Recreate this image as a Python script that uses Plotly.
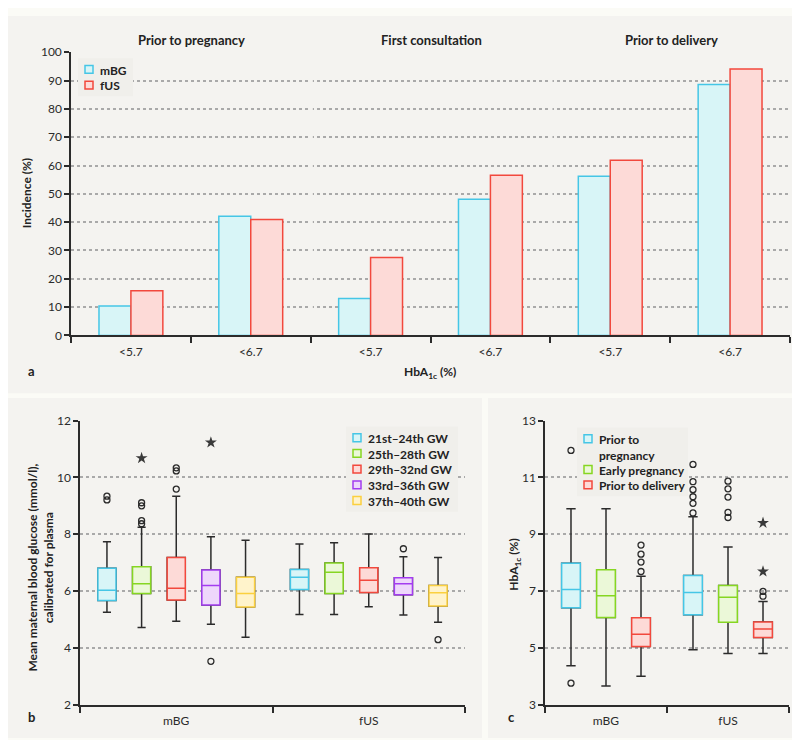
import plotly.graph_objects as go

# ---- panel a: incidence of HbA1c below threshold
sections_a = ["Prior to pregnancy", "First consultation", "Prior to delivery"]
thresholds_a = ["&lt;5.7", "&lt;6.7", "&lt;5.7", "&lt;6.7", "&lt;5.7", "&lt;6.7"]
series_a = ["mBG", "fUS"]
mbg_a = [10.4, 42.1, 13.0, 48.1, 56.2, 88.6]
fus_a = [15.8, 40.9, 27.5, 56.6, 61.9, 94.1]

# ---- panel b: mean maternal blood glucose by gestational week, rows = week, cols = [mBG, fUS]
groups = ["mBG", "fUS"]
weeks_b = ["21st\u201324th GW", "25th\u201328th GW", "29th\u201332nd GW", "33rd\u201336th GW", "37th\u201340th GW"]
b_upper = [[7.74, 7.66], [8.25, 7.70], [9.34, 8.01], [7.91, 7.21], [7.79, 7.18]]
b_q3 = [[6.80, 6.76], [6.86, 6.99], [7.18, 6.82], [6.74, 6.47], [6.49, 6.20]]
b_median = [[6.03, 6.49], [6.26, 6.66], [6.10, 6.38], [6.20, 6.26], [5.92, 5.94]]
b_q1 = [[5.67, 6.06], [5.92, 5.92], [5.69, 5.95], [5.51, 5.87], [5.44, 5.48]]
b_lower = [[5.26, 5.18], [4.72, 5.18], [4.94, 5.45], [4.83, 5.16], [4.38, 4.90]]
b_outliers = [[[9.34, 9.21], []], [[9.11, 9.0, 8.48, 8.37], []], [[10.34, 10.23, 9.59], []],
              [[3.53], [7.49]], [[], [4.29]]]
b_extremes = [[[], []], [[10.68], []], [[], []], [[11.23], []], [[], []]]

# ---- panel c: HbA1c by period, rows = period, cols = [mBG, fUS]
periods_c = ["Prior to<br>pregnancy", "Early pregnancy", "Prior to delivery"]
c_upper = [[9.90, 9.62], [9.90, 8.55], [7.52, 6.63]]
c_q3 = [[7.98, 7.55], [7.75, 7.20], [6.06, 5.91]]
c_median = [[7.06, 6.95], [6.84, 6.78], [5.48, 5.67]]
c_q1 = [[6.41, 6.17], [6.07, 5.90], [5.05, 5.37]]
c_lower = [[4.37, 4.94], [3.66, 4.80], [4.00, 4.80]]
c_outliers = [[[11.95, 3.76], [11.46, 10.85, 10.57, 10.32, 10.09, 9.75]],
              [[], [10.87, 10.60, 10.31, 9.77, 9.59]],
              [[8.62, 8.30, 8.02, 7.69], [6.99, 6.82]]]
c_extremes = [[[], []], [[], []], [[], [9.40, 7.69]]]

CYAN = ("#45c6e6", "#d8f5f7")
GREEN = ("#86d622", "#ebf8d8")
RED = ("#f2483d", "#fddad7")
PURPLE = ("#a33cf0", "#eed7fb")
YELLOW = ("#fbd03f", "#fff3cb")

PANEL_BG = "#f4f3f0"
PLOT_BG = "#fefdf4"
LEGEND_BG = "#f0efeb"
INK = "#2b2b2b"
FONT = "Lato"
W, H = 800, 740


def px(x):
    return x / W


def py(y):
    return 1 - y / H


bold = {"family": FONT, "size": 12, "color": "#222", "weight": "bold"}

fig = go.Figure()

# panel a bars
for name, vals, (line_c, fill_c) in zip(series_a, [mbg_a, fus_a], [CYAN, RED]):
    fig.add_trace(go.Bar(
        x=[i + 0.5 for i in range(len(vals))], y=vals, name=name,
        marker={"color": fill_c, "line": {"color": line_c, "width": 1.5}},
        xaxis="x", yaxis="y", showlegend=False,
    ))


def add_box_panel(xa, ya, names, colors, upper, q3, med, q1, lower,
                  outliers, extremes, slot, width, whisker):
    n = len(names)
    for i in range(n):
        pos = [g + 0.5 + (i - (n - 1) / 2) * slot for g in range(len(groups))]
        line_c, fill_c = colors[i]
        # whiskers in black underneath
        fig.add_trace(go.Box(
            x=pos, q1=q1[i], median=med[i], q3=q3[i], lowerfence=lower[i],
            upperfence=upper[i], width=width, whiskerwidth=whisker,
            line={"color": INK, "width": 1.5}, fillcolor="rgba(0,0,0,0)",
            boxpoints=False, showlegend=False, hoverinfo="skip",
            xaxis=xa, yaxis=ya,
        ))
        # coloured box on top
        fig.add_trace(go.Box(
            x=pos, q1=q1[i], median=med[i], q3=q3[i], lowerfence=q1[i],
            upperfence=q3[i], width=width, whiskerwidth=0,
            line={"color": line_c, "width": 1.5}, fillcolor=fill_c,
            boxpoints=False, name=names[i].replace("<br>", " "), showlegend=False,
            xaxis=xa, yaxis=ya,
        ))
        for g in range(len(groups)):
            if outliers[i][g]:
                fig.add_trace(go.Scatter(
                    x=[pos[g]] * len(outliers[i][g]), y=outliers[i][g], mode="markers",
                    marker={"symbol": "circle-open", "size": 6, "color": INK,
                            "line": {"width": 1.3}},
                    showlegend=False, xaxis=xa, yaxis=ya,
                ))
            if extremes[i][g]:
                fig.add_trace(go.Scatter(
                    x=[pos[g]] * len(extremes[i][g]), y=extremes[i][g], mode="markers",
                    marker={"symbol": "star", "size": 9, "color": "#3a3a3a"},
                    showlegend=False, xaxis=xa, yaxis=ya,
                ))


add_box_panel("x2", "y2", weeks_b, [CYAN, GREEN, RED, PURPLE, YELLOW],
              b_upper, b_q3, b_median, b_q1, b_lower, b_outliers, b_extremes,
              slot=0.18, width=0.094, whisker=0.45)
add_box_panel("x3", "y3", periods_c, [CYAN, GREEN, RED],
              c_upper, c_q3, c_median, c_q1, c_lower, c_outliers, c_extremes,
              slot=0.287, width=0.153, whisker=0.5)

tickfont = {"family": FONT, "size": 12, "color": INK}
yax = dict(showline=True, linecolor=INK, linewidth=1.5, ticks="outside", ticklen=5,
           tickwidth=1.5, tickcolor=INK, showgrid=True, gridcolor="#a9a9a9",
           griddash="dot", gridwidth=1.5, zeroline=False, tickfont=tickfont)


def xax(n, labels, dom, anchor):
    return dict(domain=dom, anchor=anchor, range=[0, n], tickmode="array",
                tickvals=[i + 0.5 for i in range(n)], ticktext=labels, ticks="",
                showgrid=False, zeroline=False, showline=True, linecolor=INK,
                linewidth=1.5, tickfont=tickfont, ticklabelstandoff=4,
                minor={"tickmode": "array", "tickvals": list(range(n + 1)),
                       "ticks": "outside", "ticklen": 6, "tickwidth": 1.5,
                       "tickcolor": INK, "showgrid": False})


fig.update_layout(
    width=W, height=H, margin={"l": 0, "r": 0, "t": 0, "b": 0},
    paper_bgcolor="#fbfbf6", plot_bgcolor=PLOT_BG,
    barmode="group", bargap=0.467, bargroupgap=0,
    font={"family": FONT, "color": INK},
    xaxis=xax(6, thresholds_a, [px(63), px(782)], "y"),
    yaxis=dict(yax, domain=[py(326), py(37)], range=[0, 100], dtick=10, anchor="x"),
    xaxis2=xax(2, groups, [px(72), px(457)], "y2"),
    yaxis2=dict(yax, domain=[py(703), py(413)], range=[2, 12], dtick=2, anchor="x2"),
    xaxis3=xax(2, groups, [px(537), px(781)], "y3"),
    yaxis3=dict(yax, domain=[py(703), py(413)], range=[3, 13], tick0=3, dtick=2, anchor="x3"),
    showlegend=False,
)

# panel backgrounds and section gaps
panels = [(0, 800, 0, 385), (0, 474, 390, 737), (480, 800, 390, 737)]
for x0, x1, y0, y1 in panels:
    fig.add_shape(type="rect", xref="paper", yref="paper", x0=px(x0), x1=px(x1),
                  y0=py(y1), y1=py(y0), fillcolor=PANEL_BG, line_width=0, layer="below")
for xs in [2, 4]:
    fig.add_shape(type="rect", xref="x", yref="y", x0=xs - 0.018, x1=xs + 0.018,
                  y0=0.4, y1=100, fillcolor=PANEL_BG, line_width=0, layer="between")


def draw_legend(names, colors, left, top, width, pad=11.5, step=16):
    lines = sum(nm.count("<br>") + 1 for nm in names)
    bottom = top + 2 * pad + (lines - 1) * step
    fig.add_shape(type="rect", xref="paper", yref="paper", x0=px(left),
                  x1=px(left + width), y0=py(bottom), y1=py(top),
                  fillcolor=LEGEND_BG, line_width=0, layer="above")
    yc = top + pad
    for nm, (line_c, fill_c) in zip(names, colors):
        sx = left + 11
        fig.add_shape(type="rect", xref="paper", yref="paper", x0=px(sx - 4),
                      x1=px(sx + 4), y0=py(yc + 4), y1=py(yc - 4),
                      fillcolor=fill_c, line={"color": line_c, "width": 1.5},
                      layer="above")
        fig.add_annotation(x=px(left + 21), y=py(yc - 8), text=nm, xref="paper",
                           yref="paper", showarrow=False, xanchor="left",
                           yanchor="top", align="left", font=bold, borderpad=0)
        yc += step * (nm.count("<br>") + 1)


draw_legend(series_a, [CYAN, RED], 70, 43, 55)
draw_legend(weeks_b, [CYAN, GREEN, RED, PURPLE, YELLOW], 338, 419, 112)
draw_legend(periods_c, [CYAN, GREEN, RED], 569, 420, 111, step=15.7)

notes = []
for k, title in enumerate(sections_a):
    notes.append(dict(x=px(63 + 240 * k + 120), y=py(24), text=title,
                      font=dict(bold, size=13)))
notes += [
    dict(x=px(18), y=py(181), text="Incidence (%)", textangle=-90, font=bold),
    dict(x=px(422), y=py(364), text="HbA<sub>1c</sub> (%)", font=bold),
    dict(x=px(33), y=py(563),
         text="Mean maternal blood glucose (mmol/l),<br>calibrated for plasma",
         textangle=-90, font=bold),
    dict(x=px(507), y=py(560), text="HbA<sub>1c</sub> (%)", textangle=-90, font=bold),
    dict(x=px(23), y=py(362), text="a", font=dict(bold, size=13)),
    dict(x=px(23), y=py(716), text="b", font=dict(bold, size=13)),
    dict(x=px(503), y=py(716), text="c", font=dict(bold, size=13)),
]
for a in notes:
    fig.add_annotation(a, xref="paper", yref="paper", showarrow=False,
                       xanchor="center", yanchor="middle")

fig.write_html("out.html")
